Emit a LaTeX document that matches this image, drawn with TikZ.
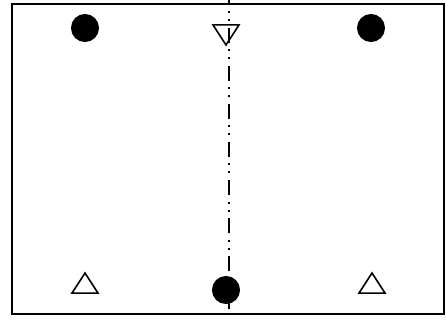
\documentclass[tikz,border=0pt]{standalone}
\usetikzlibrary{shapes.geometric}
\tikzset{
  every picture/.style={line width=2pt},
  frame/.style={draw,line width=2pt},
  pin/.style={draw,fill=black,circle,minimum size=26pt,inner sep=0},
  up/.style={draw,isosceles triangle,isosceles triangle stretches,shape border rotate=90,
    minimum width=26pt,minimum height=20pt,inner sep=0,line width=1.6pt},
  dn/.style={up,shape border rotate=270},
  axis/.style={line width=2pt,dash pattern=on 15pt off 6.5pt on 2pt off 6pt on 2pt off 6.5pt},
}
\begin{document}
\begin{tikzpicture}[x=1pt,y=-1pt]
\useasboundingbox (0,0) rectangle (446,320);
% outline
\draw[frame] (11.5,4.5) rectangle (444,314);
% symmetry line
\coordinate (top) at (229,0);
\coordinate (bot) at (229,314);
\draw[axis,dash phase=10pt] (top) -- (bot);
% supports
\node[pin] (p1) at (85,28) {};
\node[pin] (p2) at (371,28) {};
\node[pin] (p3) at (226,290) {};
\node[dn] (t1) at (226,32) {};
\node[up] (t2) at (85,286) {};
\node[up] (t3) at (372,286) {};
\end{tikzpicture}
\end{document}
